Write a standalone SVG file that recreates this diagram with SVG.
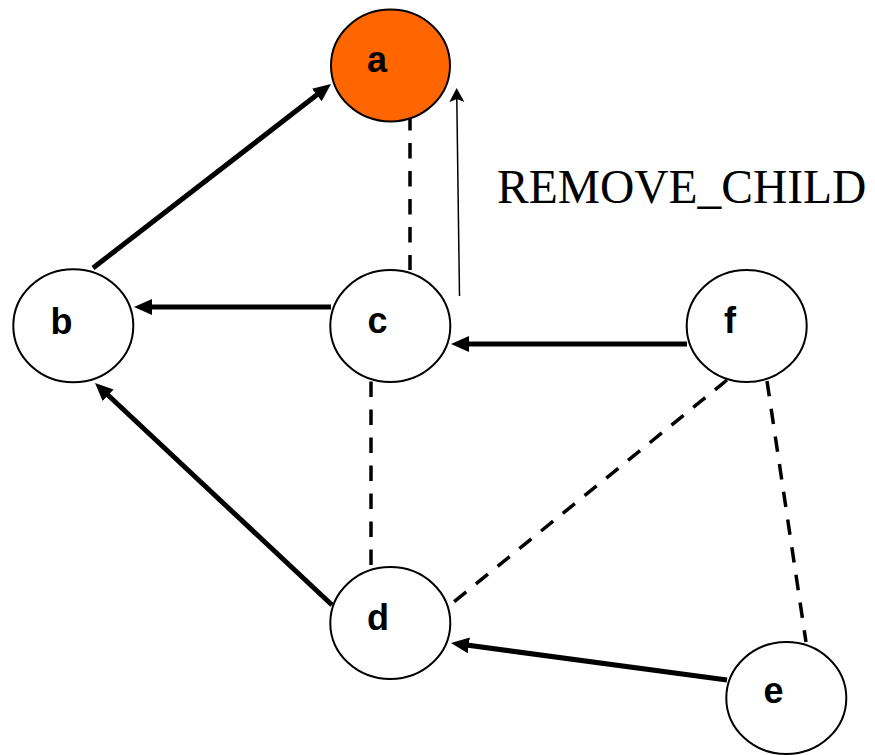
<svg xmlns="http://www.w3.org/2000/svg" width="875" height="755" viewBox="0 0 875 755">
  <style>
    .node ellipse { fill: #ffffff; stroke: #000000; stroke-width: 2; }
    #node-a ellipse { fill: #ff6600; }
    .node text { font-family: "Liberation Sans", Arial, sans-serif; font-weight: bold; font-size: 36px; fill: #000000; text-anchor: middle; }
    .edge { stroke: #000000; stroke-width: 5; fill: none; marker-end: url(#arrow-thick); }
    .dash { stroke: #000000; stroke-width: 3.5; fill: none; stroke-dasharray: 15.5 12.5; }
    .thin { stroke: #000000; stroke-width: 1.5; fill: none; marker-end: url(#arrow-thin); }
    .label { font-family: "Liberation Serif", "Times New Roman", serif; font-size: 47.5px; fill: #000000; }
  </style>
  <defs>
    <marker id="arrow-thick" markerUnits="userSpaceOnUse" markerWidth="20" markerHeight="18" viewBox="0 -9 20 18" refX="8" refY="0" orient="auto">
      <path d="M0,-8 L18,0 L0,8 Z" fill="#000000"/>
    </marker>
    <marker id="arrow-thin" markerUnits="userSpaceOnUse" markerWidth="16" markerHeight="18" viewBox="0 -9 16 18" refX="3" refY="0" orient="auto">
      <path d="M14,0 L0,-7.5 L3,0 L0,7.5 Z" fill="#000000"/>
    </marker>
  </defs>

  <g id="connectors">
    <!-- dashed undirected links -->
    <line class="dash" x1="410" y1="115" x2="410" y2="270"/>
    <line class="dash" x1="371" y1="381.5" x2="371" y2="566"/>
    <line class="dash" x1="727" y1="380" x2="450" y2="605"/>
    <line class="dash" x1="767" y1="381" x2="806" y2="642"/>
    <!-- directed links -->
    <line class="edge" x1="93" y1="268" x2="323.1" y2="90.1"/>
    <line class="edge" x1="331" y1="307" x2="144" y2="307"/>
    <line class="edge" x1="687" y1="344" x2="461" y2="344"/>
    <line class="edge" x1="332" y1="605" x2="102.3" y2="389.8"/>
    <line class="edge" x1="727" y1="680" x2="460.9" y2="644.3"/>
    <!-- message arrow -->
    <line class="thin" x1="459.5" y1="296" x2="456.8" y2="99"/>
  </g>

  <text class="label" x="497" y="203">REMOVE_CHILD</text>

  <g id="node-a" class="node">
    <ellipse cx="390.5" cy="65.5" rx="59.5" ry="56"/>
    <text x="377" y="72">a</text>
  </g>
  <g id="node-b" class="node">
    <ellipse cx="73.3" cy="325.7" rx="60" ry="56.5"/>
    <text x="61.5" y="334">b</text>
  </g>
  <g id="node-c" class="node">
    <ellipse cx="390.3" cy="326" rx="60" ry="56"/>
    <text x="377.5" y="333">c</text>
  </g>
  <g id="node-f" class="node">
    <ellipse cx="746.7" cy="326" rx="60" ry="56"/>
    <text x="730" y="333">f</text>
  </g>
  <g id="node-d" class="node">
    <ellipse cx="390.3" cy="623" rx="60" ry="56"/>
    <text x="378" y="630">d</text>
  </g>
  <g id="node-e" class="node">
    <ellipse cx="786.3" cy="698" rx="60" ry="56"/>
    <text x="773.5" y="703">e</text>
  </g>
</svg>
